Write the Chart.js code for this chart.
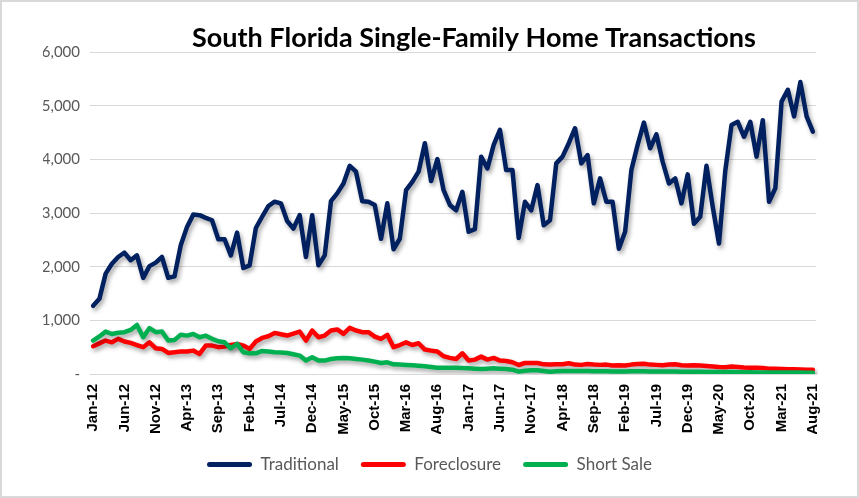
<!DOCTYPE html>
<html>
<head>
<meta charset="utf-8">
<script src="https://cdn.jsdelivr.net/npm/chart.js@4.4.1/dist/chart.umd.min.js"></script>
<style>
html, body { margin:0; padding:0; background:#fff; }
canvas { display:block; outline:2px solid #d9d9d9; outline-offset:-2px; }
</style>
</head>
<body>
<canvas id="c" width="859" height="498"></canvas>
<script>
const judul = 'South Florida Single-Family Home Transactions'
const bulan = ['Jan','Feb','Mar','Apr','May','Jun','Jul','Aug','Sep','Oct','Nov','Dec']
const tahun = ['12','13','14','15','16','17','18','19','20','21']

// Jan-12 .. Aug-21, one label per month
const labels = tahun.flatMap(t => bulan.map(b => `${b}-${t}`)).slice(0, 116)

const traditional = [
  1270,1400,1870,2055,2180,2260,2120,2210,1790,2010,2075,2180,
  1790,1820,2400,2740,2970,2960,2910,2865,2510,2510,2210,2635,
  1975,2025,2720,2930,3130,3210,3180,2850,2710,2960,2180,2960,
  2025,2210,3220,3365,3550,3880,3770,3220,3210,3150,2520,3180,
  2325,2520,3425,3580,3770,4300,3595,4005,3425,3150,3050,3395,
  2650,2700,4050,3830,4270,4550,3800,3800,2535,3210,3050,3520,
  2770,2865,3925,4050,4300,4580,3925,4080,3180,3645,3210,3210,
  2335,2650,3800,4270,4685,4205,4465,3955,3550,3645,3180,3720,
  2800,2930,3880,3115,2430,3780,4640,4700,4420,4700,4050,4730,
  3210,3460,5075,5295,4800,5440,4800,4515
]
const foreclosure = [
  517,570,623,590,655,605,580,540,500,590,480,467,
  392,405,418,418,436,374,530,530,500,510,540,560,
  530,467,605,672,704,766,741,716,754,791,623,810,
  685,716,810,830,748,860,810,780,780,698,655,730,
  500,540,590,540,573,455,436,418,330,300,280,386,
  250,268,324,268,300,250,243,218,168,205,205,205,
  180,175,180,180,200,175,170,185,175,170,175,160,
  165,160,175,185,190,175,170,165,175,180,165,160,
  165,160,150,140,130,125,140,130,120,115,115,110,
  100,100,95,90,90,85,80,80
]
const shortSale = [
  623,700,790,745,770,780,820,915,685,855,780,790,
  623,635,730,715,745,685,715,655,610,590,480,560,
  405,385,385,430,418,405,400,392,368,343,250,312,
  250,250,280,293,300,293,280,268,250,230,205,218,
  180,175,168,162,155,143,130,118,118,115,118,112,
  106,100,93,100,106,100,93,81,44,62,69,69,
  56,44,50,56,56,58,55,55,52,50,50,45,
  48,45,50,52,50,48,45,45,48,45,42,40,
  40,40,38,38,35,35,35,33,33,32,30,30,
  30,28,28,27,27,26,25,25
]

const warna = { traditional:'#002060', foreclosure:'#FF0000', shortSale:'#00B050' }

Chart.defaults.font.family = 'Lato'

// soft drop shadow under every line, like the Excel original
const bayangan = {
  id: 'bayangan',
  beforeDatasetDraw: c => {
    const x = c.ctx
    x.save()
    x.shadowColor = 'rgba(0,0,0,0.35)'
    x.shadowBlur = 4
    x.shadowOffsetX = 2
    x.shadowOffsetY = 3
  },
  afterDatasetDraw: c => c.ctx.restore()
}

// title sits a little right of the plot centre
const tulisJudul = {
  id: 'tulisJudul',
  afterDraw: c => {
    const x = c.ctx, a = c.chartArea
    x.save()
    x.font = 'bold 27px Lato'
    x.fillStyle = '#000'
    x.textAlign = 'center'
    x.textBaseline = 'alphabetic'
    x.fillText(judul, (a.left + a.right) / 2 + 21, 47)
    x.restore()
  }
}

const garis = (label, data, color, order) => ({
  label, data, order,
  borderColor: color,
  backgroundColor: color,
  borderWidth: 4.5,
  pointRadius: 0,
  tension: 0,
  fill: false,
  borderJoinStyle: 'round',
  borderCapStyle: 'round',
})

new Chart(document.getElementById('c'), {
  type: 'line',
  data: {
    labels,
    datasets: [
      garis('Traditional', traditional, warna.traditional, 2),
      garis('Foreclosure', foreclosure, warna.foreclosure, 1),
      garis('Short Sale', shortSale, warna.shortSale, 0),
    ]
  },
  options: {
    responsive: false,
    animation: false,
    layout: { padding: { left: 43, right: 43, top: 52, bottom: 15 } },
    plugins: {
      tooltip: { enabled: false },
      title: { display: false },
      legend: {
        position: 'bottom',
        labels: {
          boxWidth: 45,
          boxHeight: 5,
          padding: 22,
          color: '#595959',
          font: { size: 17 },
          sort: (a, b) => a.datasetIndex - b.datasetIndex,
          generateLabels: c => c.data.datasets.map((d, i) => ({
            text: d.label,
            fillStyle: d.borderColor,
            strokeStyle: d.borderColor,
            lineWidth: 0,
            borderRadius: 2.5,
            fontColor: '#595959',
            hidden: false,
            datasetIndex: i,
          })),
        }
      }
    },
    scales: {
      x: {
        offset: true,
        grid: { display: false, drawTicks: false },
        border: { color: '#d9d9d9', width: 1 },
        ticks: {
          autoSkip: false,
          maxRotation: 90,
          minRotation: 90,
          padding: 10,
          color: '#000',
          font: { family: 'Liberation Sans', weight: 'bold', size: 15 },
          callback: (v, i) => i % 5 === 0 ? labels[i] : null,
        },
        afterFit: s => { s.height = 60 },
      },
      y: {
        min: 0,
        max: 6000,
        grid: { color: '#d9d9d9', lineWidth: 1, drawTicks: false },
        border: { display: false },
        ticks: {
          stepSize: 1000,
          padding: 10,
          color: '#595959',
          font: { size: 15 },
          callback: v => v === 0 ? '-' : v.toLocaleString('en-US'),
        },
        afterFit: s => { s.width = 47 },
      }
    }
  },
  plugins: [bayangan, tulisJudul]
})
</script>
</body>
</html>
